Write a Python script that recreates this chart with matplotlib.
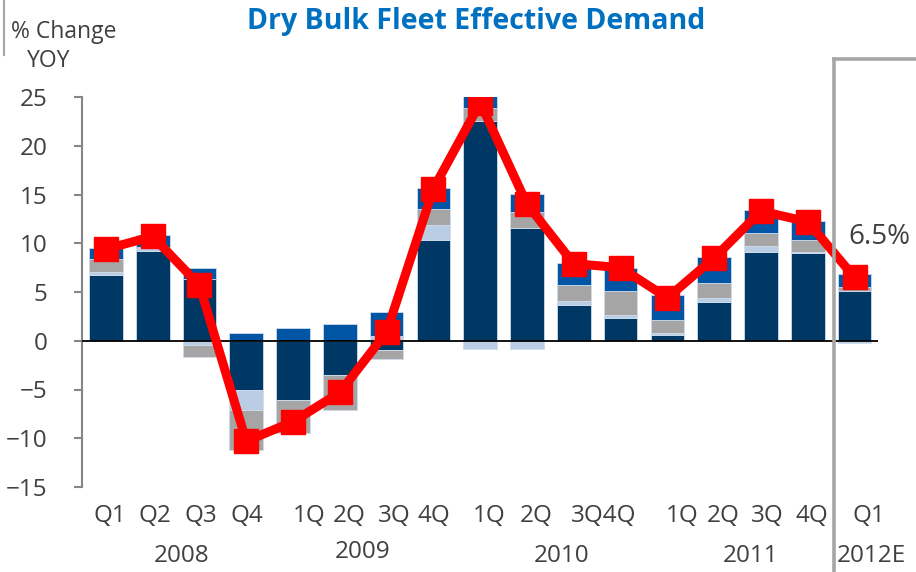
import numpy as np
import matplotlib
matplotlib.use("Agg")
import matplotlib.pyplot as plt
from matplotlib.lines import Line2D

# stacked components, % change YOY (signed: positive stacks up, negative stacks down)
navy = [6.7, 9.25, 6.3, -5.1, -6.1, -3.5, -0.9, 10.35, 22.5, 11.55, 3.7, 2.3, 0.6, 3.95, 9.15, 9.0, 5.1]
light = [0.35, 0.25, -0.4, -2.0, 0.0, 0.0, 0.5, 1.55, -0.85, -0.85, 0.35, 0.35, 0.2, 0.45, 0.55, 0.15, -0.25]
gray = [1.3, 0.1, -1.3, -4.1, -3.4, -3.6, -1.0, 1.65, 1.35, 1.65, 1.65, 2.45, 1.3, 1.5, 1.35, 1.15, 0.45]
blue = [1.15, 1.2, 1.15, 0.8, 1.3, 1.75, 2.4, 2.1, 1.35, 1.85, 2.25, 2.4, 2.55, 2.7, 2.4, 1.95, 1.3]

# total effective demand (red line)
total = [9.4, 10.7, 5.7, -10.3, -8.3, -5.3, 0.9, 15.6, 24.4, 14.0, 7.9, 7.5, 4.4, 8.5, 13.3, 12.2, 6.5]

quarter_labels = ["Q1", "Q2", "Q3", "Q4", "1Q", "2Q", "3Q", "4Q", "1Q", "2Q", "3Q4Q",
                  "1Q", "2Q", "3Q", "4Q", "Q1"]
quarter_px = [110, 155, 201, 247, 309, 349, 394, 434, 489, 536, 604, 682, 723, 767, 812, 869]
year_labels = ["2008", "2009", "2010", "2011", "2012E"]
year_px = [182, 363, 562, 751, 871]
year_py = [556, 552, 556, 556, 556]

W, H = 916, 572
FONT = "Open Sans"
TXT = "#404040"

fig = plt.figure(figsize=(W / 100, H / 100), dpi=100)
ax = fig.add_axes([82 / W, 1 - 487 / H, (878 - 82) / W, (487 - 97) / H])

x = np.arange(len(total))
pos_base = np.zeros(len(x))
neg_base = np.zeros(len(x))
for vals, col in [(navy, "#003865"), (light, "#b9cde5"), (gray, "#a5a5a5"), (blue, "#0055a5")]:
    v = np.array(vals)
    bottom = np.where(v >= 0, pos_base, neg_base)
    ax.bar(x, v, 0.72, bottom=bottom, color=col, edgecolor="#d0dcec", linewidth=0.6, zorder=2)
    pos_base += np.clip(v, 0, None)
    neg_base += np.clip(v, None, 0)

ax.plot(x, total, color="#ff0000", lw=6.5, marker="s", ms=17, zorder=5)
ax.axhline(0, color="black", lw=1.3, zorder=3)

ax.set_xlim(-0.51, 16.5)
ax.set_ylim(-15, 25)
ax.set_yticks(range(-15, 26, 5))
ax.set_xticks([])
for s in ["top", "right", "bottom"]:
    ax.spines[s].set_visible(False)
ax.spines["left"].set_color("#868686")
ax.spines["left"].set_linewidth(1.5)
ax.tick_params(axis="y", length=6, width=1.5, color="#868686", pad=19,
               labelsize=17.5, labelcolor=TXT)
for lab in ax.get_yticklabels():
    lab.set_fontfamily(FONT)

# right-hand "estimate" frame
fig.add_artist(Line2D([834 / W, 834 / W], [0, 1 - 59 / H], color="#a6a6a6", lw=2.6))
fig.add_artist(Line2D([834 / W, 1], [1 - 59 / H, 1 - 59 / H], color="#a6a6a6", lw=2.6))
# small bar next to the y label
fig.add_artist(Line2D([4 / W, 4 / W], [1 - 55 / H, 1], color="#a6a6a6", lw=1.5))

fig.text(476 / W, 1 - 22 / H, "Dry Bulk Fleet Effective Demand", ha="center", va="center",
         fontsize=20.5, fontweight="bold", color="#0070c0", family=FONT)
fig.text(11 / W, 1 - 32 / H, "% Change", ha="left", va="center", fontsize=16.5,
         color=TXT, family=FONT)
fig.text(49 / W, 1 - 61 / H, "YOY", ha="center", va="center", fontsize=16.5,
         color=TXT, family=FONT)
fig.text(879 / W, 1 - 237 / H, "6.5%", ha="center", va="center", fontsize=20,
         color=TXT, family=FONT)

for lab, px in zip(quarter_labels, quarter_px):
    fig.text(px / W, 1 - 516 / H, lab, ha="center", va="center", fontsize=17.5,
             color=TXT, family=FONT)
for lab, px, py in zip(year_labels, year_px, year_py):
    fig.text(px / W, 1 - py / H, lab, ha="center", va="center", fontsize=17.5,
             color=TXT, family=FONT)

fig.savefig("out.png", dpi=100, facecolor="white")
